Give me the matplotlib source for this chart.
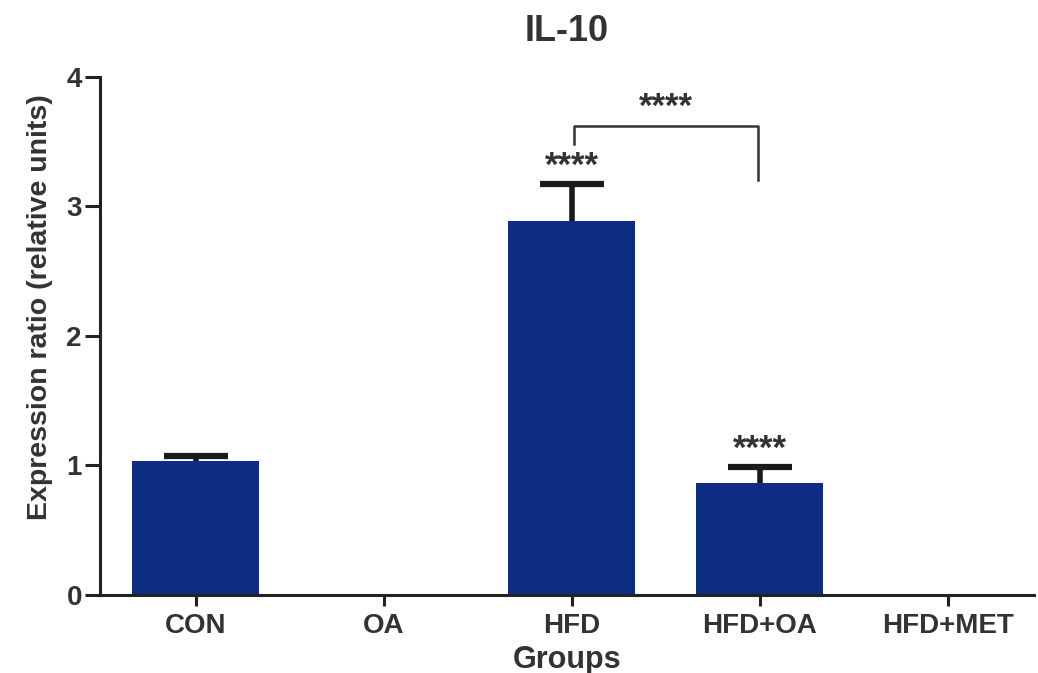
import matplotlib.pyplot as plt
import numpy as np

plt.rcParams['font.family'] = ['Liberation Sans', 'DejaVu Sans']

groups = ['CON', 'OA', 'HFD', 'HFD+OA', 'HFD+MET']
means = [1.03, 0.0, 2.89, 0.865, 0.0]
errors = [0.04, 0.0, 0.28, 0.125, 0.0]
star_labels = ['', '', '****', '****', '']
bracket_pair = (2, 3)
bracket_y = 3.62
bracket_legs = (3.48, 3.20)

bar_color = '#0c2d82'
text_color = '#333333'

x = np.arange(len(groups))

fig = plt.figure(figsize=(10.38, 6.73), dpi=100)
ax = fig.add_axes([0.0963, 0.116, 0.9, 0.77])

ax.bar(x, means, width=0.675, color=bar_color, linewidth=0, zorder=2)

# upper error bars only (stem + cap)
cap_half = 0.17
for i in range(len(groups)):
    if errors[i] > 0:
        top = means[i] + errors[i]
        ax.vlines(x[i], means[i], top, color='#1a1a1a', lw=4, zorder=3)
        ax.hlines(top, x[i] - cap_half, x[i] + cap_half, color='#1a1a1a', lw=4.5, zorder=3)

# stars above bars
for i, s in enumerate(star_labels):
    if s:
        ax.text(x[i], means[i] + errors[i] + 0.01, s, ha='center', va='bottom',
                fontsize=25, fontweight='bold', color=text_color)

# comparison bracket HFD vs HFD+OA
a, b = bracket_pair
ax.plot([x[a] + 0.01, x[a] + 0.01, x[b] - 0.01, x[b] - 0.01],
        [bracket_legs[0], bracket_y, bracket_y, bracket_legs[1]],
        color='#333333', lw=1.8, zorder=3)
ax.text((x[a] + x[b]) / 2, bracket_y + 0.02, '****', ha='center', va='bottom',
        fontsize=25, fontweight='bold', color=text_color)

ax.set_xlim(-0.51, 4.46)
ax.set_ylim(0, 4)
ax.set_yticks([0, 1, 2, 3, 4])
ax.set_xticks(x)
ax.set_xticklabels(groups)

ax.spines['top'].set_visible(False)
ax.spines['right'].set_visible(False)
for sp in ['left', 'bottom']:
    ax.spines[sp].set_linewidth(2.2)
    ax.spines[sp].set_color('#222222')

ax.tick_params(axis='y', length=11, width=2.2, labelsize=20, colors='#222222', pad=2)
ax.tick_params(axis='x', length=8, width=2.2, labelsize=20, colors='#222222', pad=5)
for lab in ax.get_xticklabels() + ax.get_yticklabels():
    lab.set_fontweight('bold')
    lab.set_color(text_color)

ax.set_ylabel('Expression ratio (relative units)', fontsize=20.5, fontweight='bold',
              color=text_color)
ax.yaxis.set_label_coords(-0.05, 0.556)
ax.set_xlabel('Groups', fontsize=22, fontweight='bold', color=text_color, labelpad=4)
ax.set_title('IL-10', fontsize=26, fontweight='bold', color=text_color, pad=26)

fig.savefig('out.png', dpi=100)
